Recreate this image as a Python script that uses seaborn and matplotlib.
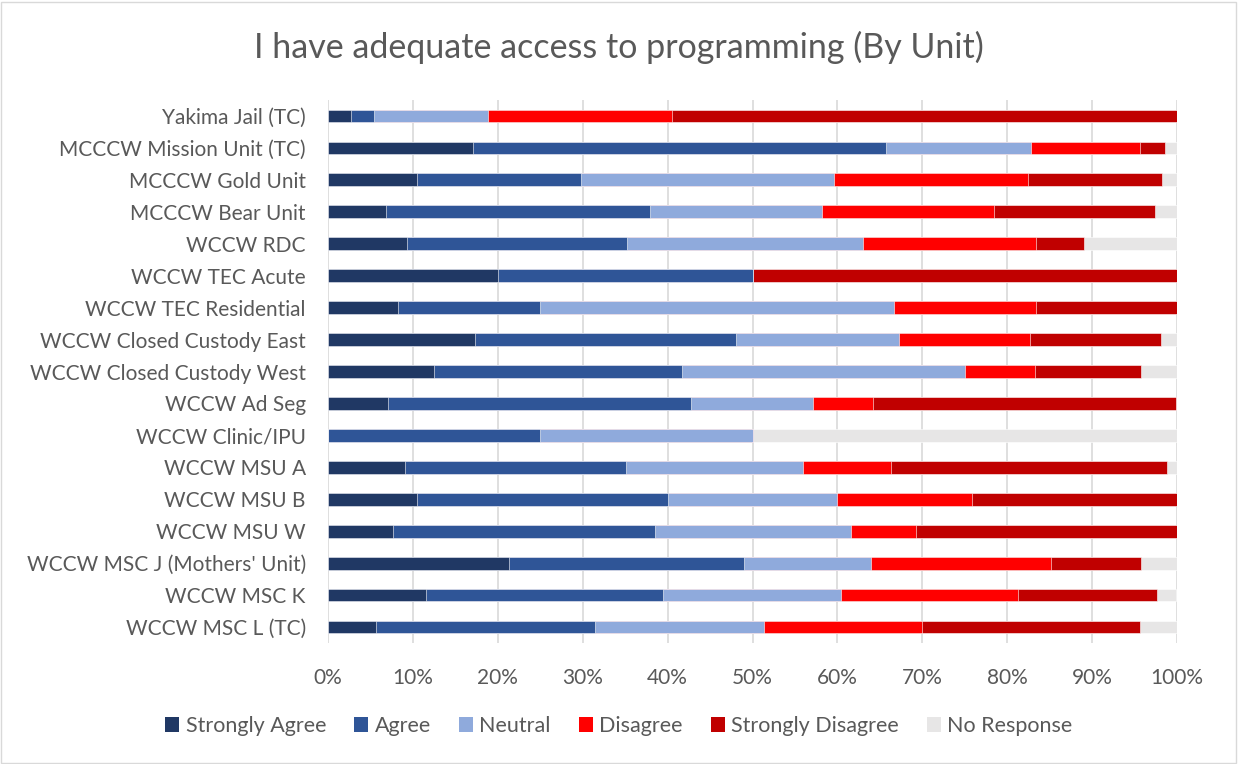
import matplotlib
matplotlib.use("Agg")
import matplotlib.pyplot as plt
from matplotlib.patches import Patch, Rectangle
from matplotlib.ticker import FuncFormatter
import numpy as np
import pandas as pd
import seaborn as sns

# Survey question, share of responses per unit (%)
units = [
    "Yakima Jail (TC)", "MCCCW Mission Unit (TC)", "MCCCW Gold Unit",
    "MCCCW Bear Unit", "WCCW RDC", "WCCW TEC Acute", "WCCW TEC Residential",
    "WCCW Closed Custody East", "WCCW Closed Custody West", "WCCW Ad Seg",
    "WCCW Clinic/IPU", "WCCW MSU A", "WCCW MSU B", "WCCW MSU W",
    "WCCW MSC J (Mothers' Unit)", "WCCW MSC K", "WCCW MSC L (TC)",
]
responses = ["Strongly Agree", "Agree", "Neutral", "Disagree",
             "Strongly Disagree", "No Response"]

strongly_agree = [2.7, 17.1, 10.5, 6.8, 9.3, 20.0, 8.3, 17.3, 12.5, 7.1, 0.0,
                  9.1, 10.5, 7.7, 21.3, 11.6, 5.7]
agree = [2.7, 48.6, 19.3, 31.1, 25.9, 30.0, 16.7, 30.8, 29.2, 35.7, 25.0,
         26.0, 29.5, 30.8, 27.7, 27.9, 25.7]
neutral = [13.5, 17.1, 29.8, 20.3, 27.8, 0.0, 41.7, 19.2, 33.3, 14.3, 25.0,
           20.8, 20.0, 23.1, 14.9, 20.9, 20.0]
disagree = [21.6, 12.9, 22.8, 20.3, 20.4, 0.0, 16.7, 15.4, 8.3, 7.1, 0.0,
            10.4, 15.9, 7.7, 21.3, 20.9, 18.6]
strongly_disagree = [59.5, 2.9, 15.8, 18.9, 5.6, 50.0, 16.7, 15.4, 12.5, 35.7,
                     0.0, 32.5, 24.1, 30.8, 10.6, 16.3, 25.7]
no_response = [0.0, 1.4, 1.8, 2.7, 11.1, 0.0, 0.0, 1.9, 4.2, 0.0, 50.0,
               1.3, 0.0, 0.0, 4.3, 2.3, 4.3]

colors = ["#203864", "#2F5597", "#8FAADC", "#FF0000", "#C00000", "#E7E6E6"]
text_color = "#595959"
grid_color = "#D9D9D9"

series = [strongly_agree, agree, neutral, disagree, strongly_disagree, no_response]
df = pd.DataFrame({"unit": units})
for name, vals in zip(responses, series):
    df[name] = vals
# cumulative right edges of each stacked segment
cum = df[responses].cumsum(axis=1).clip(upper=100)

sns.set_theme(style="white")
plt.rcParams["font.family"] = ["Lato", "DejaVu Sans"]

fig = plt.figure(figsize=(12.38, 7.64), dpi=100)
ax = fig.add_axes([328 / 1238, 1 - 643 / 764, (1177 - 328) / 1238, (643 - 100) / 764])

# draw the widest cumulative bar first, then overlay shorter ones
for name, color in reversed(list(zip(responses, colors))):
    sns.barplot(x=cum[name], y=df["unit"], orient="y", color=color,
                width=0.4, saturation=1, ax=ax, edgecolor="white",
                linewidth=0.4, zorder=3)

ax.set_xlim(0, 100)
ax.set_xticks(np.arange(0, 101, 10))
ax.xaxis.set_major_formatter(FuncFormatter(lambda v, p: f"{v:.0f}%"))
ax.grid(axis="x", color=grid_color, linewidth=1.2, zorder=0)
ax.set_axisbelow(True)
for s in ax.spines.values():
    s.set_visible(False)
ax.set_xlabel("")
ax.set_ylabel("")
ax.tick_params(axis="both", length=0, colors=text_color, labelsize=15)
ax.tick_params(axis="x", pad=18)
ax.tick_params(axis="y", pad=16)

fig.text(0.5, 1 - 47 / 764, "I have adequate access to programming (By Unit)",
         ha="center", va="center", fontsize=24.5, color=text_color)

handles = [Patch(facecolor=c, edgecolor="none") for c in colors]
fig.legend(handles, responses, loc="center", ncol=6,
           bbox_to_anchor=(0.5, 1 - 726 / 764), frameon=False,
           handlelength=0.65, handleheight=0.65, handletextpad=0.3,
           columnspacing=1.3, fontsize=15.5, labelcolor=text_color)

fig.patches.append(Rectangle((0.001, 0.001), 0.997, 0.997, transform=fig.transFigure,
                             fill=False, edgecolor=grid_color, linewidth=1))

fig.savefig("out.png", dpi=100)
